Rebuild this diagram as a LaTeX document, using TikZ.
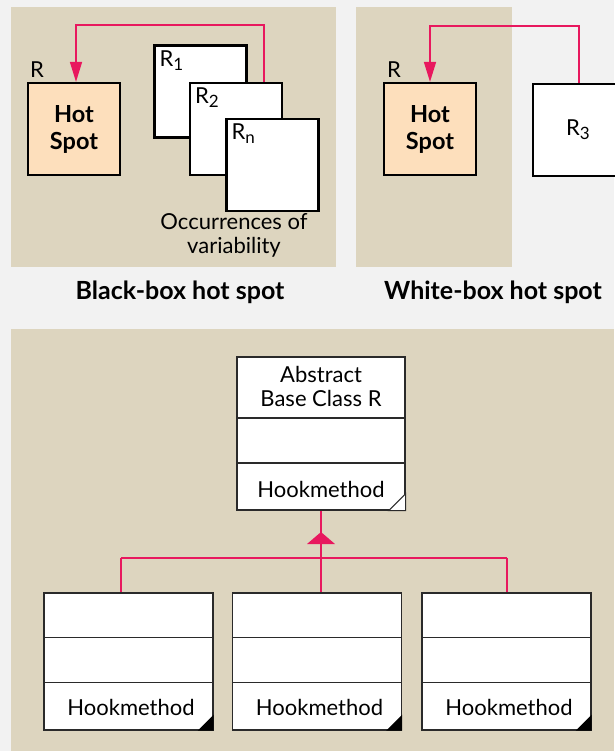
\documentclass[tikz,border=0pt]{standalone}
\usepackage{fontspec}
\setmainfont{Lato}
\usetikzlibrary{arrows.meta,calc}
\definecolor{pagebg}{HTML}{F2F2F2}
\definecolor{panel}{HTML}{DDD5BF}
\definecolor{peach}{HTML}{FDDFBC}
\definecolor{hookred}{HTML}{E8185E}
\definecolor{frame}{HTML}{2A2A2A}
% index written below the baseline, a little smaller than the text
\newcommand{\rsub}[1]{\raisebox{-0.35ex}{\fontsize{17}{17}\selectfont #1}}
\tikzset{
  txt/.style={font=\fontsize{22}{24}\selectfont, inner sep=0pt},
  hotspot/.style={draw=black, line width=2.2pt, fill=peach, minimum width=92pt, minimum height=92pt,
    font=\fontsize{23.5}{27}\bfseries\selectfont, align=center, inner sep=0pt},
  rbox/.style={draw=black, line width=2.2pt, fill=white, minimum width=92pt, minimum height=92pt, inner sep=0pt},
  classbox/.style={draw=frame, line width=1.4pt, fill=white, minimum width=168pt, inner sep=0pt},
  divider/.style={draw=frame, line width=1.4pt},
  link/.style={draw=hookred, line width=1.5pt},
  linkarrow/.style={link, -{Triangle[length=20pt,width=12pt]}},
  caption/.style={font=\fontsize{25}{28}\bfseries\selectfont, inner sep=0pt},
}
\begin{document}
\begin{tikzpicture}[x=1pt,y=-1pt]
  % page and panels
  \path[use as bounding box, fill=pagebg] (0,0) rectangle (614,751);
  \fill[panel] (11,7) rectangle (336,267);
  \fill[panel] (356,7) rectangle (512,267);
  \fill[panel] (11,329) rectangle (614,751);

  % black-box hot spot
  \node[hotspot] (hs1) at (74,129) {Hot\\Spot};
  \node[txt, anchor=base west] (r1lbl) at (30,78) {R};
  \node[rbox] (ra) at (200.5,91.5) {};
  \node[rbox] (rb) at (236,129) {};
  \node[rbox] (rc) at (272.5,165) {};
  \node[txt, anchor=base west] (ra-l) at ($(ra.north west)+(6,22)$) {R\rsub{1}};
  \node[txt, anchor=base west] (rb-l) at ($(rb.north west)+(6,22)$) {R\rsub{2}};
  \node[txt, anchor=base west] (rc-l) at ($(rc.north west)+(6,22)$) {R\rsub{n}};
  \node[txt, align=center] (occ) at (234,235) {Occurrences of\\variability};
  \coordinate (c1) at ($(rb.north west)+(75,0)$);
  \draw[linkarrow] (c1) -- ++(0,-57) -| ($(hs1.north)+(2,0)$);
  \node[caption] (cap1) at (180,292) {Black-box hot spot};

  % white-box hot spot
  \node[hotspot] (hs2) at (430,129) {Hot\\Spot};
  \node[txt, anchor=base west] (r2lbl) at (387,78) {R};
  \node[rbox, anchor=north west] (r3) at (532,83) {};
  \node[txt] (r3l) at (578,130) {R\rsub{3}};
  \coordinate (c2) at (579,83);
  \draw[linkarrow] (c2) -- ++(0,-57) -| (hs2.north);
  \node[caption] (cap2) at (493,292) {White-box hot spot};

  % abstract base class
  \node[classbox, minimum height=153pt] (base) at (321,433.5) {};
  \draw[divider] (237,418) -- (405,418);
  \draw[divider] (237,463) -- (405,463);
  \node[txt, align=center] (base-name) at (321,386) {Abstract\\Base Class R};
  \node[txt] (base-hook) at (321,489) {Hookmethod};
  \draw[frame, line width=1pt, fill=white]
    (base.south east) -- ++(-17,0) -- ++(17,-17) -- cycle;

  % concrete subclasses
  \foreach \n/\cx in {s1/128.5, s2/317, s3/506.5}{
    \node[classbox, minimum width=169pt, minimum height=137pt] (\n) at (\cx,661.5) {};
    \draw[divider] ($(\n.north west)+(0,45)$) -- ($(\n.north east)+(0,45)$);
    \draw[divider] ($(\n.north west)+(0,90)$) -- ($(\n.north east)+(0,90)$);
    \node[txt] (\n-hook) at ($(\n.south)+(2.5,-23)$) {Hookmethod};
    \fill[black] (\n.south east) -- ++(-16,0) -- ++(16,-16) -- cycle;
  }

  % inheritance connectors
  \coordinate (j1) at (121,558);
  \coordinate (j2) at (321,558);
  \coordinate (j3) at (507,558);
  \draw[link] (base.south -| j2) -- (j2);
  \draw[link] (j1) -- (j3);
  \draw[link] (j1) -- (j1 |- s1.north);
  \draw[link] (j2) -- (j2 |- s2.north);
  \draw[link] (j3) -- (j3 |- s3.north);
  \fill[hookred] ($(j2)+(-14,-14)$) -- ($(j2)+(14,-14)$) -- ($(j2)+(0,-26)$) -- cycle;
\end{tikzpicture}
\end{document}
